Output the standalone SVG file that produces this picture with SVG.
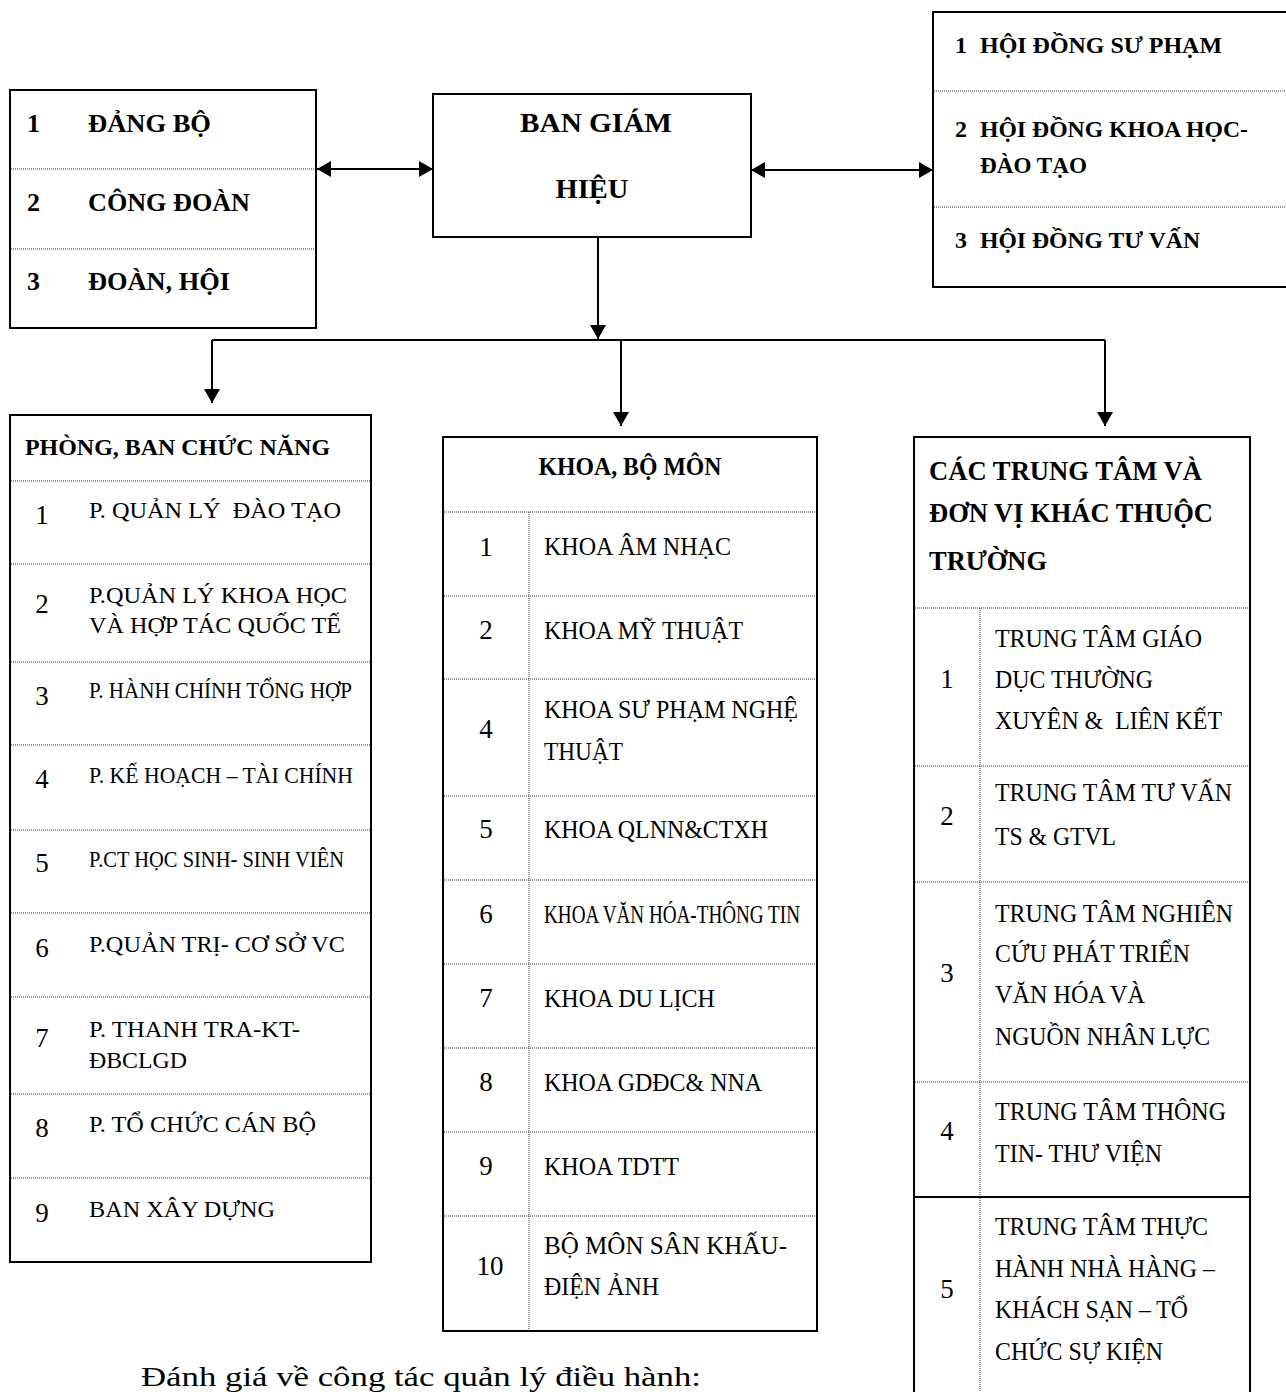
<svg xmlns="http://www.w3.org/2000/svg" width="1286" height="1392" viewBox="0 0 1286 1392">
<style>
.box{fill:#fff;stroke:#000;stroke-width:2}
.dot{stroke:#333;stroke-width:1;stroke-dasharray:1 1;fill:none}
.sol{stroke:#000;stroke-width:2;fill:none}
.conn{stroke:#000;stroke-width:2;fill:none}
text{font-family:"Liberation Serif","Times New Roman",serif;fill:#000}
.b{font-weight:bold}
.s28{font-size:28px}.s27{font-size:27px}.s26{font-size:26px}.s25{font-size:25px}.s24{font-size:24px}.s23{font-size:23px}
.m{text-anchor:middle}
</style>
<defs>
<marker id="ah" viewBox="0 0 14 16" refX="14" refY="8" markerWidth="14" markerHeight="16" markerUnits="userSpaceOnUse" orient="auto-start-reverse">
<path d="M0,0 L14,8 L0,16 Z" fill="#000"/>
</marker>
</defs>
<rect width="1286" height="1392" fill="#fff"/>

<g id="connectors">
<path class="conn" d="M317,169 H433" marker-start="url(#ah)" marker-end="url(#ah)"/>
<path class="conn" d="M751,170 H933" marker-start="url(#ah)" marker-end="url(#ah)"/>
<path class="conn" d="M598,237 V339" marker-end="url(#ah)"/>
<path class="conn" d="M212,340 H1105"/>
<path class="conn" d="M212,340 V403" marker-end="url(#ah)"/>
<path class="conn" d="M621,340 V426" marker-end="url(#ah)"/>
<path class="conn" d="M1105,340 V426" marker-end="url(#ah)"/>
</g>

<g id="dang-bo-cong-doan">
<rect class="box" x="10" y="90" width="306" height="238"/>
<line class="dot" x1="11" y1="169" x2="315" y2="169"/>
<line class="dot" x1="11" y1="249" x2="315" y2="249"/>
<text class="b s26" x="27" y="132">1</text>
<text class="b s26" x="88" y="132" textLength="123" lengthAdjust="spacingAndGlyphs">ĐẢNG BỘ</text>
<text class="b s26" x="27" y="211">2</text>
<text class="b s26" x="88" y="211" textLength="162" lengthAdjust="spacingAndGlyphs">CÔNG ĐOÀN</text>
<text class="b s26" x="27" y="290">3</text>
<text class="b s26" x="88" y="290" textLength="142" lengthAdjust="spacingAndGlyphs">ĐOÀN, HỘI</text>
</g>

<g id="ban-giam-hieu">
<rect class="box" x="433" y="94" width="318" height="143"/>
<text class="b s28 m" x="596" y="132" textLength="152" lengthAdjust="spacingAndGlyphs">BAN GIÁM</text>
<text class="b s28 m" x="592" y="198" textLength="73" lengthAdjust="spacingAndGlyphs">HIỆU</text>
</g>

<g id="hoi-dong">
<rect class="box" x="933" y="12" width="370" height="275"/>
<line class="dot" x1="934" y1="91" x2="1286" y2="91"/>
<line class="dot" x1="934" y1="207" x2="1286" y2="207"/>
<text class="b s24" x="955" y="53">1</text>
<text class="b s24" x="980" y="53" textLength="242" lengthAdjust="spacingAndGlyphs">HỘI ĐỒNG SƯ PHẠM</text>
<text class="b s24" x="955" y="137">2</text>
<text class="b s24" x="980" y="137" textLength="268" lengthAdjust="spacingAndGlyphs">HỘI ĐỒNG KHOA HỌC-</text>
<text class="b s24" x="980" y="173" textLength="107" lengthAdjust="spacingAndGlyphs">ĐÀO TẠO</text>
<text class="b s24" x="955" y="248">3</text>
<text class="b s24" x="980" y="248" textLength="220" lengthAdjust="spacingAndGlyphs">HỘI ĐỒNG TƯ VẤN</text>
</g>

<g id="phong-ban">
<rect class="box" x="10" y="415" width="361" height="847"/>
<text class="b s24" x="25" y="455" textLength="305" lengthAdjust="spacingAndGlyphs">PHÒNG, BAN CHỨC NĂNG</text>
<line class="dot" x1="11" y1="481" x2="370" y2="481"/>
<line class="dot" x1="11" y1="564" x2="370" y2="564"/>
<line class="dot" x1="11" y1="662" x2="370" y2="662"/>
<line class="dot" x1="11" y1="745" x2="370" y2="745"/>
<line class="dot" x1="11" y1="830" x2="370" y2="830"/>
<line class="dot" x1="11" y1="913" x2="370" y2="913"/>
<line class="dot" x1="11" y1="997" x2="370" y2="997"/>
<line class="dot" x1="11" y1="1094" x2="370" y2="1094"/>
<line class="dot" x1="11" y1="1178" x2="370" y2="1178"/>
<text class="s27 m" x="42" y="524">1</text>
<text class="s24" x="89" y="518" xml:space="preserve" style="white-space:pre" textLength="252" lengthAdjust="spacingAndGlyphs">P. QUẢN LÝ  ĐÀO TẠO</text>
<text class="s27 m" x="42" y="613">2</text>
<text class="s24" x="89" y="603" textLength="258" lengthAdjust="spacingAndGlyphs">P.QUẢN LÝ KHOA HỌC</text>
<text class="s24" x="89" y="633" textLength="252" lengthAdjust="spacingAndGlyphs">VÀ HỢP TÁC QUỐC TẾ</text>
<text class="s27 m" x="42" y="705">3</text>
<text class="s24" x="89" y="698" textLength="263" lengthAdjust="spacingAndGlyphs">P. HÀNH CHÍNH TỔNG HỢP</text>
<text class="s27 m" x="42" y="788">4</text>
<text class="s24" x="89" y="783" textLength="264" lengthAdjust="spacingAndGlyphs">P. KẾ HOẠCH – TÀI CHÍNH</text>
<text class="s27 m" x="42" y="872">5</text>
<text class="s24" x="89" y="867" textLength="255" lengthAdjust="spacingAndGlyphs">P.CT HỌC SINH- SINH VIÊN</text>
<text class="s27 m" x="42" y="957">6</text>
<text class="s24" x="89" y="952" textLength="256" lengthAdjust="spacingAndGlyphs">P.QUẢN TRỊ- CƠ SỞ VC</text>
<text class="s27 m" x="42" y="1047">7</text>
<text class="s24" x="89" y="1037" textLength="211" lengthAdjust="spacingAndGlyphs">P. THANH TRA-KT-</text>
<text class="s24" x="89" y="1068" textLength="98" lengthAdjust="spacingAndGlyphs">ĐBCLGD</text>
<text class="s27 m" x="42" y="1137">8</text>
<text class="s24" x="89" y="1132" textLength="227" lengthAdjust="spacingAndGlyphs">P. TỔ CHỨC CÁN BỘ</text>
<text class="s27 m" x="42" y="1222">9</text>
<text class="s24" x="89" y="1217" textLength="186" lengthAdjust="spacingAndGlyphs">BAN XÂY DỰNG</text>
</g>

<g id="khoa-bo-mon">
<rect class="box" x="443" y="437" width="374" height="894"/>
<text class="b s25 m" x="630" y="475" textLength="183" lengthAdjust="spacingAndGlyphs">KHOA, BỘ MÔN</text>
<line class="dot" x1="444" y1="512" x2="816" y2="512"/>
<line class="dot" x1="444" y1="596" x2="816" y2="596"/>
<line class="dot" x1="444" y1="679" x2="816" y2="679"/>
<line class="dot" x1="444" y1="796" x2="816" y2="796"/>
<line class="dot" x1="444" y1="880" x2="816" y2="880"/>
<line class="dot" x1="444" y1="964" x2="816" y2="964"/>
<line class="dot" x1="444" y1="1048" x2="816" y2="1048"/>
<line class="dot" x1="444" y1="1132" x2="816" y2="1132"/>
<line class="dot" x1="444" y1="1216" x2="816" y2="1216"/>
<line class="dot" x1="529" y1="512" x2="529" y2="1330"/>
<text class="s27 m" x="486" y="556">1</text>
<text class="s25" x="544" y="555" textLength="187" lengthAdjust="spacingAndGlyphs">KHOA ÂM NHẠC</text>
<text class="s27 m" x="486" y="639">2</text>
<text class="s25" x="544" y="639" textLength="199" lengthAdjust="spacingAndGlyphs">KHOA MỸ THUẬT</text>
<text class="s27 m" x="486" y="738">4</text>
<text class="s25" x="544" y="718" textLength="254" lengthAdjust="spacingAndGlyphs">KHOA SƯ PHẠM NGHỆ</text>
<text class="s25" x="544" y="760" textLength="79" lengthAdjust="spacingAndGlyphs">THUẬT</text>
<text class="s27 m" x="486" y="838">5</text>
<text class="s25" x="544" y="838" textLength="224" lengthAdjust="spacingAndGlyphs">KHOA QLNN&amp;CTXH</text>
<text class="s27 m" x="486" y="923">6</text>
<text class="s25" x="544" y="923" textLength="256" lengthAdjust="spacingAndGlyphs">KHOA VĂN HÓA-THÔNG TIN</text>
<text class="s27 m" x="486" y="1007">7</text>
<text class="s25" x="544" y="1007" textLength="171" lengthAdjust="spacingAndGlyphs">KHOA DU LỊCH</text>
<text class="s27 m" x="486" y="1091">8</text>
<text class="s25" x="544" y="1091" textLength="218" lengthAdjust="spacingAndGlyphs">KHOA GDĐC&amp; NNA</text>
<text class="s27 m" x="486" y="1175">9</text>
<text class="s25" x="544" y="1175" textLength="135" lengthAdjust="spacingAndGlyphs">KHOA TDTT</text>
<text class="s27 m" x="490" y="1275">10</text>
<text class="s25" x="544" y="1254" textLength="243" lengthAdjust="spacingAndGlyphs">BỘ MÔN SÂN KHẤU-</text>
<text class="s25" x="544" y="1295" textLength="115" lengthAdjust="spacingAndGlyphs">ĐIỆN ẢNH</text>
</g>

<g id="trung-tam">
<rect class="box" x="914" y="437" width="336" height="980"/>
<text class="b s27" x="929" y="480" textLength="273" lengthAdjust="spacingAndGlyphs">CÁC TRUNG TÂM VÀ</text>
<text class="b s27" x="929" y="522" textLength="284" lengthAdjust="spacingAndGlyphs">ĐƠN VỊ KHÁC THUỘC</text>
<text class="b s27" x="929" y="570" textLength="118" lengthAdjust="spacingAndGlyphs">TRƯỜNG</text>
<line class="dot" x1="915" y1="608" x2="1249" y2="608"/>
<line class="dot" x1="915" y1="766" x2="1249" y2="766"/>
<line class="dot" x1="915" y1="882" x2="1249" y2="882"/>
<line class="dot" x1="915" y1="1082" x2="1249" y2="1082"/>
<line class="sol" x1="914" y1="1197" x2="1250" y2="1197"/>
<line class="dot" x1="980" y1="608" x2="980" y2="1392"/>
<text class="s27 m" x="947" y="688">1</text>
<text class="s25" x="995" y="647" textLength="207" lengthAdjust="spacingAndGlyphs">TRUNG TÂM GIÁO</text>
<text class="s25" x="995" y="688" textLength="158" lengthAdjust="spacingAndGlyphs">DỤC THƯỜNG</text>
<text class="s25" x="995" y="729" xml:space="preserve" style="white-space:pre" textLength="227" lengthAdjust="spacingAndGlyphs">XUYÊN &amp;  LIÊN KẾT</text>
<text class="s27 m" x="947" y="825">2</text>
<text class="s25" x="995" y="801" textLength="237" lengthAdjust="spacingAndGlyphs">TRUNG TÂM TƯ VẤN</text>
<text class="s25" x="995" y="845" textLength="121" lengthAdjust="spacingAndGlyphs">TS &amp; GTVL</text>
<text class="s27 m" x="947" y="982">3</text>
<text class="s25" x="995" y="922" textLength="238" lengthAdjust="spacingAndGlyphs">TRUNG TÂM NGHIÊN</text>
<text class="s25" x="995" y="962" textLength="195" lengthAdjust="spacingAndGlyphs">CỨU PHÁT TRIỂN</text>
<text class="s25" x="995" y="1003" textLength="150" lengthAdjust="spacingAndGlyphs">VĂN HÓA VÀ</text>
<text class="s25" x="995" y="1045" textLength="215" lengthAdjust="spacingAndGlyphs">NGUỒN NHÂN LỰC</text>
<text class="s27 m" x="947" y="1140">4</text>
<text class="s25" x="995" y="1120" textLength="231" lengthAdjust="spacingAndGlyphs">TRUNG TÂM THÔNG</text>
<text class="s25" x="995" y="1162" textLength="167" lengthAdjust="spacingAndGlyphs">TIN- THƯ VIỆN</text>
<text class="s27 m" x="947" y="1298">5</text>
<text class="s25" x="995" y="1235" textLength="213" lengthAdjust="spacingAndGlyphs">TRUNG TÂM THỰC</text>
<text class="s25" x="995" y="1277" textLength="220" lengthAdjust="spacingAndGlyphs">HÀNH NHÀ HÀNG –</text>
<text class="s25" x="995" y="1318" textLength="193" lengthAdjust="spacingAndGlyphs">KHÁCH SẠN – TỔ</text>
<text class="s25" x="995" y="1360" textLength="168" lengthAdjust="spacingAndGlyphs">CHỨC SỰ KIỆN</text>
</g>

<text class="s27" x="141" y="1386" textLength="560" lengthAdjust="spacingAndGlyphs">Đánh giá về công tác quản lý điều hành:</text>
</svg>
